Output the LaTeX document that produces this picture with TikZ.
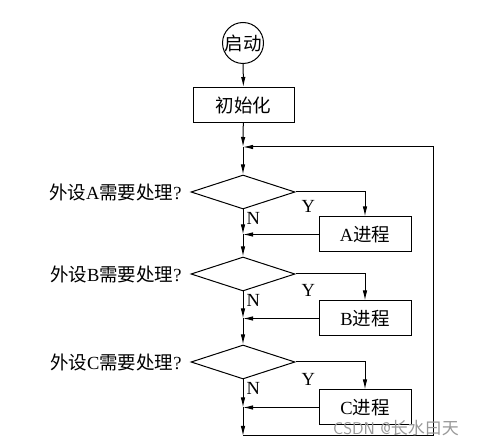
\documentclass[tikz,border=0pt]{standalone}
\usepackage{fontspec}
\setmainfont{Liberation Serif}
\newfontfamily\cjk{Noto Sans CJK SC}
\usetikzlibrary{arrows.meta,shapes.geometric,positioning}

\begin{document}
\begin{tikzpicture}[x=1pt,y=-1pt,>={Latex[length=10pt,width=4.5pt]},line width=1pt,
  font=\fontsize{18.5}{21}\selectfont,
  procbox/.style={draw,minimum width=92pt,minimum height=35pt,inner sep=0pt},
  decide/.style={draw,diamond,minimum width=104pt,minimum height=34pt,inner sep=0pt},
  yn/.style={inner sep=0pt}]
  \useasboundingbox (0,0) rectangle (480,446);
  \node[draw,circle,minimum size=41pt,inner sep=0pt] (start) at (243,43) {\cjk 启动};
  \node[procbox,minimum width=101pt] (init) at (243.5,105) {\cjk 初始化};
  \coordinate (loop) at (243,147);
  % three checks
  \node[decide] (da) at (243,192) {};
  \node[decide] (db) at (243,274) {};
  \node[decide] (dc) at (243,362) {};
  \node[left=5pt of da] (qa) {\cjk 外设\rmfamily A\cjk 需要处理\rmfamily ?};
  \node[left=5pt of db] (qb) {\cjk 外设\rmfamily B\cjk 需要处理\rmfamily ?};
  \node[left=5pt of dc] (qc) {\cjk 外设\rmfamily C\cjk 需要处理\rmfamily ?};
  \node[procbox] (pa) at (365,234.5) {A\cjk 进程};
  \node[procbox] (pb) at (365,318.5) {B\cjk 进程};
  \node[procbox] (pc) at (365,407.5) {C\cjk 进程};
  \coordinate (ma) at (da |- pa);
  \coordinate (mb) at (db |- pb);
  \coordinate (mc) at (dc |- pc);
  \coordinate (bot) at (243,436);
  \coordinate (br) at (433,436);
  \node[yn,below right=2pt and 3pt of da.south] (na) {N};
  \node[yn,below right=2pt and 3pt of db.south] (nb) {N};
  \node[yn,below right=2pt and 3pt of dc.south] (nc) {N};
  \node[yn,above left=3pt and 3pt of pa.north west] (ya) {Y};
  \node[yn,above left=3pt and 3pt of pb.north west] (yb) {Y};
  \node[yn,above left=3pt and 3pt of pc.north west] (yc) {Y};
  \draw[->] (start) -- (init);
  \draw[->] (init) -- (loop);
  \draw[->] (loop) -- (da);
  \foreach \d/\p/\m/\n in {da/pa/ma/db,db/pb/mb/dc} {
    \draw[->] (\d.east) -| (\p.north);
    \draw[->] (\d.south) -- (\m);
    \draw[->] (\p.west) -- (\m);
    \draw[->] (\m) -- (\n.north);
  }
  \draw[->] (dc.east) -| (pc.north);
  \draw[->] (dc.south) -- (mc);
  \draw[->] (pc.west) -- (mc);
  \draw[->] (mc) -- (bot);
  \draw[->] (bot) -- (br) |- (loop);
  \node[text=black!40,font=\fontsize{17}{19}\selectfont\sffamily] (mark) at (396,428) {CSDN @{\cjk 长水曰天}};
\end{tikzpicture}
\end{document}
